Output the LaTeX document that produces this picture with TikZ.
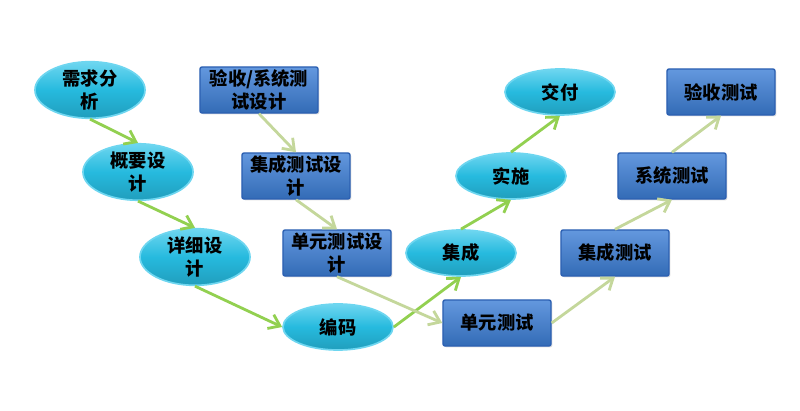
\documentclass[tikz,border=0pt]{standalone}
\usepackage{fontspec}
\newfontfamily\cjk{Noto Sans CJK SC}
\usetikzlibrary{arrows.meta, positioning, shadows, shapes.geometric}

\definecolor{flowgreen}{RGB}{146,208,80}
\definecolor{testgreen}{RGB}{196,215,155}
\definecolor{ellcyan}{RGB}{38,186,222}
\definecolor{ellrim}{RGB}{110,214,240}
\definecolor{boxblue}{RGB}{60,126,214}
\definecolor{boxrim}{RGB}{44,96,178}

\begin{document}
\begin{tikzpicture}[
    x=0.025cm, y=-0.025cm,
    phase/.style={
        ellipse, draw=ellrim, line width=1.2pt,
        top color=ellrim, bottom color=ellcyan!85!black, middle color=ellcyan,
        minimum width=2.75cm, minimum height=1.15cm, inner sep=0pt,
        align=center, font=\cjk\bfseries\fontsize{13}{16}\selectfont
    },
    testbox/.style={
        draw=boxrim, line width=1pt,
        rectangle, rounded corners=1.5pt,
        top color=boxblue!80!white, bottom color=boxblue!85!black,
        drop shadow={opacity=0.25, shadow xshift=1pt, shadow yshift=-1pt},
        minimum height=1.15cm, minimum width=2.7cm, inner sep=0pt,
        align=center, font=\cjk\bfseries\fontsize{13}{16}\selectfont
    },
    devflow/.style={-{Straight Barb[length=2.6mm, width=3.8mm]}, draw=flowgreen, line width=2pt},
    testflow/.style={-{Straight Barb[length=2.6mm, width=3.8mm]}, draw=testgreen, line width=2pt},
]
\useasboundingbox (0,0) rectangle (800,411);

% Left branch: development phases
\node[phase] (req)    at (90,90)   {需求分\\析};
\node[phase] (outline) at (138,172) {概要设\\计};
\node[phase] (detail) at (195,257) {详细设\\计};
\node[phase] (coding) at (338,327) {编码};

% Right branch: integration and delivery
\node[phase] (integ)   at (461,253) {集成};
\node[phase] (deploy)  at (511,176) {实施};
\node[phase] (deliver) at (560,92)  {交付};

% Test design boxes
\node[testbox, minimum width=2.95cm] (accdesign) at (259,90) {验收/系统测\\试设计};
\node[testbox] (intdesign)  at (296,176) {集成测试设\\计};
\node[testbox] (unitdesign) at (337,253) {单元测试设\\计};

% Test execution boxes
\node[testbox] (unittest) at (497,323) {单元测试};
\node[testbox] (inttest)  at (615,253) {集成测试};
\node[testbox] (systest)  at (672,176) {系统测试};
\node[testbox] (acctest)  at (721,92)  {验收测试};

% Development flow
\draw[devflow] (req.south) -- (outline.north);
\draw[devflow] (outline.south) -- (detail.north);
\draw[devflow] (detail.south) -- (coding.west);
\draw[devflow] (coding.east) -- (integ.south);
\draw[devflow] (integ.north) -- (deploy.south);
\draw[devflow] (deploy.north) -- (deliver.south);

% Test flow
\draw[testflow] (accdesign.south) -- (intdesign.north);
\draw[testflow] (intdesign.south) -- (unitdesign.north);
\draw[testflow] (unitdesign.south) -- (unittest.west);
\draw[testflow] (unittest.east) -- (inttest.south);
\draw[testflow] (inttest.north) -- (systest.south);
\draw[testflow] (systest.north) -- (acctest.south);

\end{tikzpicture}
\end{document}
